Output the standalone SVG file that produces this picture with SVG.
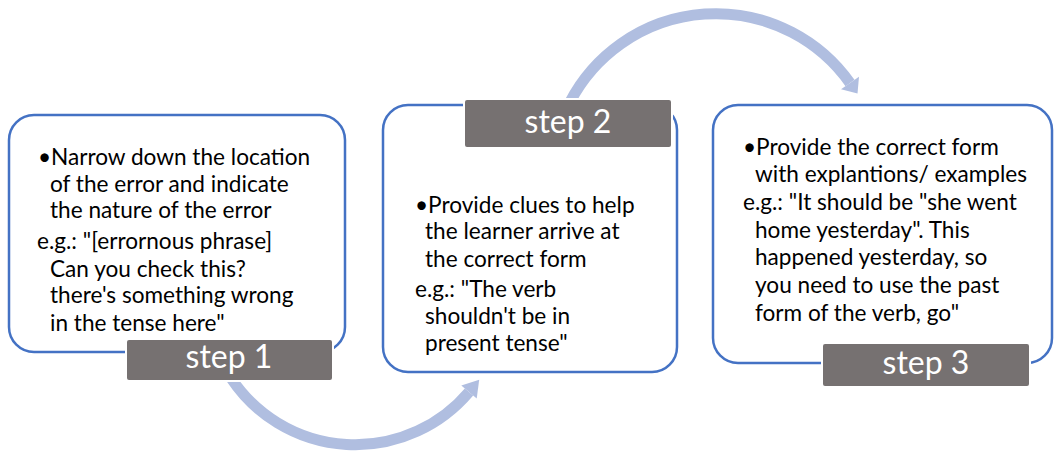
<svg xmlns="http://www.w3.org/2000/svg" width="1062" height="456" viewBox="0 0 1062 456">
<style>
.box{fill:#fff;stroke:#4472C4;stroke-width:2.5}
.lab{fill:#767171;stroke:#fff;stroke-width:2}
.labt{font-family:Lato,"Liberation Sans",sans-serif;font-size:32px;fill:#fff;text-anchor:middle}
.t{font-family:Lato,"Liberation Sans",sans-serif;font-size:22.6px;fill:#000}
.arc{fill:none;stroke:#B0BEE0;stroke-width:11}
.head{fill:#B0BEE0}
</style>
<g id="connectors">
<path class="arc" d="M570,102 A164.5,164.5 0 0 1 850,83"/>
<polygon class="head" points="859,76.7 857.5,93.6 841,89.3"/>
<path class="arc" d="M231,378 A149,149 0 0 0 469,392"/>
<polygon class="head" points="476.7,398.4 479.2,379.7 461.3,385.6"/>
</g>
<g id="node1">
<rect class="box" x="9" y="115" width="336" height="237" rx="25"/>
<text class="t"><tspan x="38" y="165">•Narrow down the location</tspan><tspan x="50" y="192">of the error and indicate</tspan><tspan x="50" y="218">the nature of the error</tspan><tspan x="37" y="249">e.g.: "[errornous phrase]</tspan><tspan x="50" y="277">Can you check this?</tspan><tspan x="50" y="303">there's something wrong</tspan><tspan x="50" y="331">in the tense here"</tspan></text>
<rect class="lab" x="126" y="339" width="207" height="42" rx="3"/>
<text class="labt" x="229" y="368">step 1</text>
</g>
<g id="node2">
<rect class="box" x="383" y="105" width="294" height="267" rx="25"/>
<text class="t"><tspan x="415" y="213">•Provide clues to help</tspan><tspan x="425" y="239">the learner arrive at</tspan><tspan x="425" y="267">the correct form</tspan><tspan x="415" y="297">e.g.: "The verb</tspan><tspan x="425" y="324">shouldn't be in</tspan><tspan x="425" y="351">present tense"</tspan></text>
<rect class="lab" x="464" y="99" width="208" height="49" rx="3"/>
<text class="labt" x="568" y="133">step 2</text>
</g>
<g id="node3">
<rect class="box" x="713" y="105" width="339" height="258" rx="25"/>
<text class="t"><tspan x="743" y="155">•Provide the correct form</tspan><tspan x="755" y="182">with explantions/ examples</tspan><tspan x="743" y="210">e.g.: "It should be "she went</tspan><tspan x="755" y="238">home yesterday". This</tspan><tspan x="755" y="265">happened yesterday, so</tspan><tspan x="755" y="293">you need to use the past</tspan><tspan x="755" y="321">form of the verb, go"</tspan></text>
<rect class="lab" x="822" y="343" width="208" height="44" rx="3"/>
<text class="labt" x="926" y="374">step 3</text>
</g>
</svg>
